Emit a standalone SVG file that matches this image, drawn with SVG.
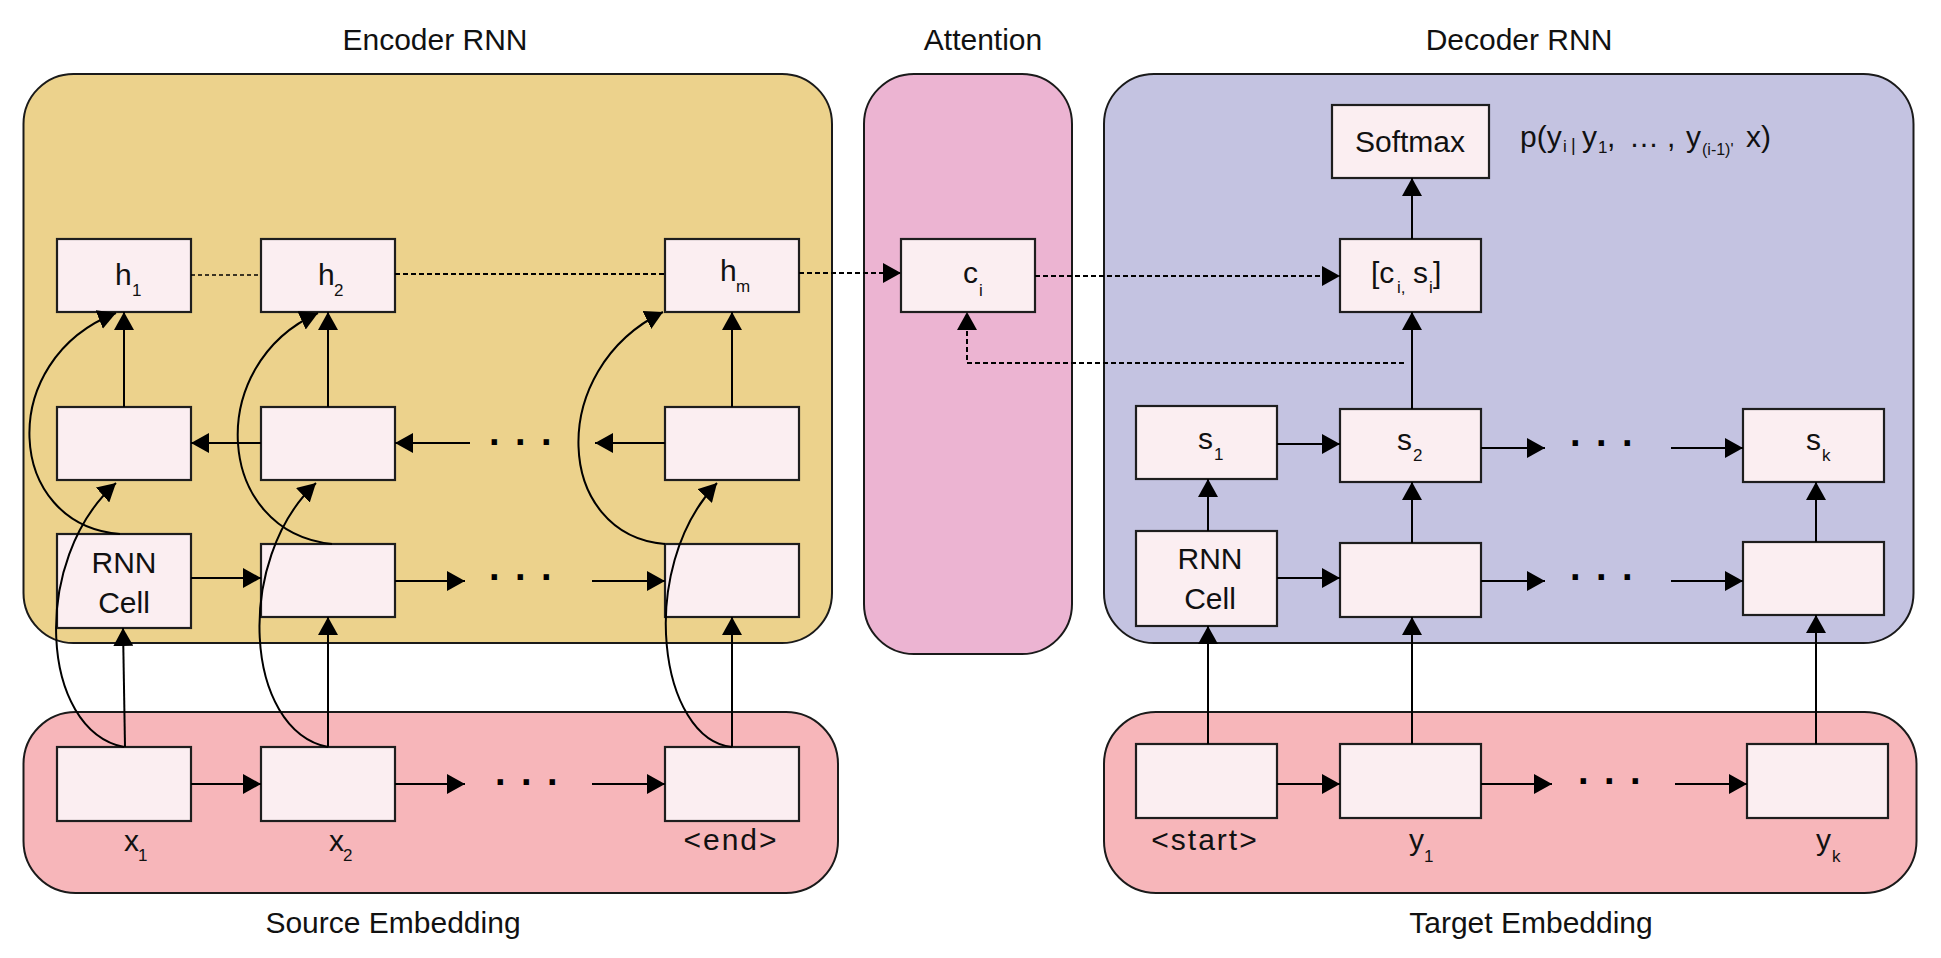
<svg xmlns="http://www.w3.org/2000/svg" width="1941" height="958" viewBox="0 0 1941 958">
<style>
  text { font-family: "Liberation Sans", Arial, sans-serif; fill: #111; }
  .title { font-size: 30px; text-anchor: middle; }
  .lbl { font-size: 30px; }
  .sub { font-size: 17px; }
  .ctr { text-anchor: middle; }
  .dots { font-size: 38px; font-weight: bold; letter-spacing: 15.4px; fill: #000; }
  .cont { stroke: #1a1a1a; stroke-width: 2; }
  .enc { fill: #ECD28C; }
  .att { fill: #ECB4D2; }
  .dec { fill: #C4C3E1; }
  .emb { fill: #F7B6BA; }
  .node rect { fill: #FBEEF1; stroke: #1e1e1e; stroke-width: 2.2; }
  .c { fill: none; stroke: #000; stroke-width: 2; }
  .a { marker-end: url(#ah); }
  .dot { fill: none; stroke: #000; stroke-width: 2; stroke-dasharray: 5 3; }
  .dotf { fill: none; stroke: #000; stroke-width: 1.5; stroke-dasharray: 4 3; }
</style>
<defs>
  <marker id="ah" markerUnits="userSpaceOnUse" markerWidth="18" markerHeight="20" refX="18" refY="10" orient="auto">
    <path d="M0,0 L18,10 L0,20 Z" fill="#000"/>
  </marker>
</defs>
<rect width="1941" height="958" fill="#fff"/>

<!-- containers -->
<g id="encoder-rnn">
  <rect class="cont enc" x="23.5" y="74" width="808.5" height="569" rx="50"/>
  <text class="title" x="435" y="50">Encoder RNN</text>
</g>
<g id="attention">
  <rect class="cont att" x="864" y="74" width="208" height="580" rx="50"/>
  <text class="title" x="983" y="50">Attention</text>
</g>
<g id="decoder-rnn">
  <rect class="cont dec" x="1104" y="74" width="809.5" height="569" rx="50"/>
  <text class="title" x="1519" y="50">Decoder RNN</text>
</g>
<g id="source-embedding">
  <rect class="cont emb" x="23.5" y="712" width="814.5" height="181" rx="52"/>
  <text class="title" x="393" y="933">Source Embedding</text>
</g>
<g id="target-embedding">
  <rect class="cont emb" x="1104" y="712" width="812.5" height="181" rx="52"/>
  <text class="title" x="1531" y="933">Target Embedding</text>
</g>

<!-- encoder nodes -->
<g id="h1" class="node"><rect x="57" y="239" width="134" height="73"/>
  <text class="lbl" x="115" y="285">h</text><text class="sub" x="132" y="296">1</text></g>
<g id="h2" class="node"><rect x="261" y="239" width="134" height="73"/>
  <text class="lbl" x="318" y="285">h</text><text class="sub" x="334" y="296">2</text></g>
<g id="hm" class="node"><rect x="665" y="239" width="134" height="73"/>
  <text class="lbl" x="720" y="281">h</text><text class="sub" x="736" y="292">m</text></g>
<g id="enc-back-1" class="node"><rect x="57" y="407" width="134" height="73"/></g>
<g id="enc-back-2" class="node"><rect x="261" y="407" width="134" height="73"/></g>
<g id="enc-back-m" class="node"><rect x="665" y="407" width="134" height="73"/></g>
<g id="enc-rnn-cell" class="node"><rect x="57" y="534" width="134" height="94"/>
  <text class="lbl ctr" x="124" y="573">RNN</text><text class="lbl ctr" x="124" y="613">Cell</text></g>
<g id="enc-fwd-2" class="node"><rect x="261" y="544" width="134" height="73"/></g>
<g id="enc-fwd-m" class="node"><rect x="665" y="544" width="134" height="73"/></g>
<g id="x1" class="node"><rect x="57" y="747" width="134" height="74"/>
  <text class="lbl" x="124" y="851">x</text><text class="sub" x="138" y="861">1</text></g>
<g id="x2" class="node"><rect x="261" y="747" width="134" height="74"/>
  <text class="lbl" x="329" y="851">x</text><text class="sub" x="343" y="861">2</text></g>
<g id="end" class="node"><rect x="665" y="747" width="134" height="74"/>
  <text class="lbl ctr" x="731" y="850" letter-spacing="2">&lt;end&gt;</text></g>

<!-- attention node -->
<g id="ci" class="node"><rect x="901" y="239" width="134" height="73"/>
  <text class="lbl" x="963" y="283">c</text><text class="sub" x="979" y="296">i</text></g>

<!-- decoder nodes -->
<g id="softmax" class="node"><rect x="1332" y="105" width="157" height="73"/>
  <text class="lbl ctr" x="1410" y="152">Softmax</text></g>
<g id="prob-label">
  <text class="lbl"><tspan x="1520" y="147">p(y</tspan><tspan class="sub" x="1563" y="152">i</tspan><tspan style="font-size:18px" x="1571" y="151">|</tspan><tspan x="1582" y="147">y</tspan><tspan class="sub" x="1598" y="153">1</tspan><tspan x="1607" y="147">,</tspan><tspan x="1629" y="147">…</tspan><tspan x="1667" y="147">,</tspan><tspan x="1686" y="147">y</tspan><tspan style="font-size:16px" x="1702" y="155">(i-1)'</tspan><tspan x="1746" y="147">x)</tspan></text>
</g>
<g id="ci-si" class="node"><rect x="1340" y="239" width="141" height="73"/>
  <text class="lbl"><tspan x="1371" y="283">[c</tspan><tspan class="sub" x="1397" y="293">i,</tspan><tspan x="1413" y="283">s</tspan><tspan class="sub" x="1429" y="293">i</tspan><tspan x="1433" y="283">]</tspan></text></g>
<g id="s1" class="node"><rect x="1136" y="406" width="141" height="73"/>
  <text class="lbl" x="1198" y="449">s</text><text class="sub" x="1214" y="460">1</text></g>
<g id="s2" class="node"><rect x="1340" y="409" width="141" height="73"/>
  <text class="lbl" x="1397" y="450">s</text><text class="sub" x="1413" y="461">2</text></g>
<g id="sk" class="node"><rect x="1743" y="409" width="141" height="73"/>
  <text class="lbl" x="1806" y="450">s</text><text class="sub" x="1822" y="461">k</text></g>
<g id="dec-rnn-cell" class="node"><rect x="1136" y="531" width="141" height="95"/>
  <text class="lbl ctr" x="1210" y="569">RNN</text><text class="lbl ctr" x="1210" y="609">Cell</text></g>
<g id="dec-fwd-2" class="node"><rect x="1340" y="543" width="141" height="74"/></g>
<g id="dec-fwd-k" class="node"><rect x="1743" y="542" width="141" height="73"/></g>
<g id="start" class="node"><rect x="1136" y="744" width="141" height="74"/>
  <text class="lbl ctr" x="1205" y="850" letter-spacing="2">&lt;start&gt;</text></g>
<g id="y1" class="node"><rect x="1340" y="744" width="141" height="74"/>
  <text class="lbl" x="1409" y="850">y</text><text class="sub" x="1424" y="862">1</text></g>
<g id="yk" class="node"><rect x="1747" y="744" width="141" height="74"/>
  <text class="lbl" x="1816" y="850">y</text><text class="sub" x="1832" y="862">k</text></g>

<!-- ellipses -->
<g id="ellipses">
  <text class="dots" x="489" y="445">...</text>
  <text class="dots" x="489" y="580">...</text>
  <text class="dots" x="495" y="785">...</text>
  <text class="dots" x="1570" y="446">...</text>
  <text class="dots" x="1570" y="580">...</text>
  <text class="dots" x="1578" y="784">...</text>
</g>

<!-- connectors -->
<g id="connectors">
  <path class="c a" d="M261,443 H191"/>
  <path class="c a" d="M470,443 H395"/>
  <path class="c a" d="M665,443 H595"/>
  <path class="c a" d="M191,578 H261"/>
  <path class="c a" d="M395,581 H465"/>
  <path class="c a" d="M592,581 H665"/>
  <path class="c a" d="M191,784 H261"/>
  <path class="c a" d="M395,784 H465"/>
  <path class="c a" d="M592,784 H665"/>
  <path class="c a" d="M124,407 V312"/>
  <path class="c a" d="M328,407 V312"/>
  <path class="c a" d="M732,407 V312"/>
  <path class="c a" d="M125,747 L123,628"/>
  <path class="c a" d="M328,747 V617"/>
  <path class="c a" d="M732,747 V617"/>
  <path class="c a" d="M120,534 C5,525 -5,360 116,313"/>
  <path class="c a" d="M332,544 C215,532 203,365 318,313"/>
  <path class="c a" d="M665,544 C555,535 545,370 663,312"/>
  <path class="c a" d="M124,747 C40,730 30,560 116,483"/>
  <path class="c a" d="M328,747 C244,730 234,560 316,483"/>
  <path class="c a" d="M732,747 C660,740 635,570 717,483"/>
  <path class="dotf" d="M191,275 H261"/>
  <path class="dot" d="M395,274 H665"/>
  <path class="dot a" d="M799,273 H901"/>
  <path class="dot a" d="M1035,276 H1340"/>
  <path class="dot a" d="M1404,363 H967 V312"/>
  <path class="c a" d="M1412,239 V178"/>
  <path class="c a" d="M1412,409 V312"/>
  <path class="c a" d="M1277,444 H1340"/>
  <path class="c a" d="M1481,448 H1545"/>
  <path class="c a" d="M1671,448 H1743"/>
  <path class="c a" d="M1208,531 V479"/>
  <path class="c a" d="M1412,543 V482"/>
  <path class="c a" d="M1816,542 V482"/>
  <path class="c a" d="M1277,578 H1340"/>
  <path class="c a" d="M1481,581 H1545"/>
  <path class="c a" d="M1671,581 H1743"/>
  <path class="c a" d="M1208,744 V626"/>
  <path class="c a" d="M1412,744 V617"/>
  <path class="c a" d="M1816,744 V615"/>
  <path class="c a" d="M1277,784 H1340"/>
  <path class="c a" d="M1481,784 H1552"/>
  <path class="c a" d="M1675,784 H1747"/>
</g>
</svg>
